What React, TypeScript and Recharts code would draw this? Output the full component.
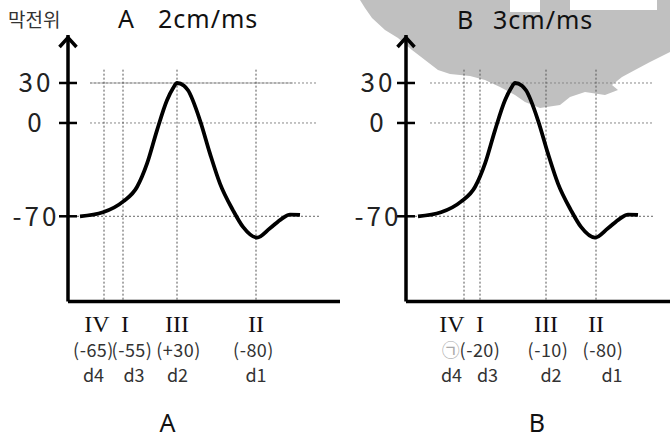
import { LineChart, Line, XAxis, YAxis, ReferenceLine } from 'recharts';

// action potential (panel B shows the same curve)
const timeSteps = [12, 35, 55, 69, 79, 89, 99, 105, 109, 116, 120, 132, 142, 152, 165, 175, 189, 202, 214, 222, 232];
const membranePotential = [-70, -67, -59, -48, -30.5, -5.5, 17, 26, 30, 28, 24.5, 2, -23, -45.5, -65.5, -78, -86, -79, -71.7, -68.7, -69];

const yTicks = [30, 0, -70];

// recording points d4..d1 on each axon
const dLinesA = [36, 55, 109, 188];
const dLinesB = [58, 74, 140, 190];

const romanLabels = ['IV', 'I', 'III', 'II'];
const dLabels = ['d4', 'd3', 'd2', 'd1'];
const valueLabelsA = ['(-65)', '(-55)', '(+30)', '(-80)'];
const valueLabelsB = ['㉠', '(-20)', '(-10)', '(-80)'];

const curve = timeSteps.map((t, i) => ({ t, mv: membranePotential[i] }));

const FONT = '"Noto Sans CJK KR", "Noto Sans", sans-serif';
const LATIN = '"Noto Sans", sans-serif';
const Y_DOMAIN: [number, number] = [-134, 66];

interface PanelConfig {
  left: number;
  width: number;
  xMax: number;
  dLines: number[];
  valueLabels: string[];
  romanDx: number[];
  valueDx: number[];
  dDx: number[];
  tickLabelDx: number;
  gridFrom: number;
  gridTo: number;
  solidTo?: number;
}

const panelA: PanelConfig = {
  left: 0,
  width: 340,
  xMax: 272,
  dLines: dLinesA,
  valueLabels: valueLabelsA,
  romanDx: [-7, 2, 0, 0],
  valueDx: [-10.5, 9, 1.5, -2.5],
  dDx: [-10.5, 11, 0.5, 0],
  tickLabelDx: 32,
  gridFrom: 22,
  gridTo: 249,
  solidTo: 225
};

const panelB: PanelConfig = {
  left: 338,
  width: 332,
  xMax: 264,
  dLines: dLinesB,
  valueLabels: valueLabelsB,
  romanDx: [-12, 0, 0, 0],
  valueDx: [-13, 0, 2, 7],
  dDx: [-12.5, 7.5, 5, 16],
  tickLabelDx: 28,
  gridFrom: 24,
  gridTo: 247
};

function Panel({ cfg }: { cfg: PanelConfig }) {
  const YTick = ({ x, y, payload }: any) => (
    <g>
      <line x1={x - 9} x2={x + 9} y1={y} y2={y} stroke="#000" strokeWidth={2.5} />
      <text
        x={x - cfg.tickLabelDx}
        y={y}
        dy="0.36em"
        textAnchor="middle"
        fontSize={26}
        fontFamily={FONT}
        letterSpacing={3}
        fill="#222"
      >
        {payload.value}
      </text>
    </g>
  );

  const XTick = ({ x, y, index }: any) => (
    <g>
      <text x={x + cfg.romanDx[index]} y={y + 30} textAnchor="middle" fontSize={24} fontFamily='"Liberation Serif", serif' fill="#111">
        {romanLabels[index]}
      </text>
      <text
        x={x + cfg.valueDx[index]}
        y={y + 55}
        textAnchor="middle"
        fontSize={18}
        fontFamily={FONT}
        letterSpacing={0.5}
        fill={cfg.valueLabels[index] === '㉠' ? '#aaa' : '#333'}
      >
        {cfg.valueLabels[index]}
      </text>
      <text x={x + cfg.dDx[index]} y={y + 80} textAnchor="middle" fontSize={18} fontFamily={FONT} fill="#333">
        {dLabels[index]}
      </text>
    </g>
  );

  return (
    <div style={{ position: 'absolute', left: cfg.left, top: 0 }}>
      <LineChart width={cfg.width} height={439} data={curve} margin={{ top: 35, right: 0, bottom: 107.4, left: 8 }}>
        <XAxis
          dataKey="t"
          type="number"
          domain={[0, cfg.xMax]}
          ticks={cfg.dLines}
          tick={<XTick />}
          tickLine={false}
          tickSize={0}
          tickMargin={0}
          height={30}
          axisLine={{ stroke: '#000', strokeWidth: 3.5 }}
          interval={0}
        />
        <YAxis
          type="number"
          domain={Y_DOMAIN}
          ticks={yTicks}
          tick={<YTick />}
          tickLine={false}
          tickSize={0}
          tickMargin={0}
          width={60}
          allowDataOverflow
          axisLine={{ stroke: '#000', strokeWidth: 3.5, markerStart: 'url(#axisArrow)' }}
        />
        {cfg.solidTo && (
          <ReferenceLine segment={[{ x: cfg.gridFrom, y: 30 }, { x: cfg.solidTo, y: 30 }]} stroke="#c4c4c4" strokeWidth={1.5} />
        )}
        <ReferenceLine segment={[{ x: cfg.gridFrom, y: 30 }, { x: cfg.gridTo, y: 30 }]} stroke="#888" strokeDasharray="2 2" />
        <ReferenceLine segment={[{ x: cfg.gridFrom, y: 0 }, { x: cfg.gridTo, y: 0 }]} stroke="#888" strokeDasharray="2 2" />
        <ReferenceLine segment={[{ x: 1, y: -70 }, { x: cfg.gridTo + 2, y: -70 }]} stroke="#666" strokeDasharray="2 2" />
        {cfg.dLines.map((d) => (
          <ReferenceLine key={d} segment={[{ x: d, y: 40 }, { x: d, y: -134 }]} stroke="#555" strokeDasharray="2 2" />
        ))}
        <Line
          type="monotone"
          dataKey="mv"
          stroke="#000"
          strokeWidth={3.8}
          dot={false}
          isAnimationActive={false}
        />
      </LineChart>
    </div>
  );
}

// grey smudge in the scanned original, top right
const smudge =
  '360,0 510,0 510,12 540,12 540,0 570,0 570,10 657,10 657,0 670,0 670,52 650,62 635,70 622,77 612,85 618,90 605,95 585,92 570,97 560,105 540,108 525,102 515,95 500,87 485,80 470,76 450,74 438,70 425,60 412,50 398,38 385,30 372,18 365,8';

export default function App() {
  return (
    <div style={{ position: 'absolute', left: 0, top: 0, width: 670, height: 439, background: '#fff', overflow: 'hidden' }}>
      <svg width={670} height={439} style={{ position: 'absolute', left: 0, top: 0 }}>
        <defs>
          <marker
            id="axisArrow"
            markerUnits="userSpaceOnUse"
            markerWidth={30}
            markerHeight={30}
            viewBox="-15 -5 30 30"
            refX={0}
            refY={0}
            orient="0"
            overflow="visible"
          >
            <path d="M-8.5,12 L0,2.5 L8.5,12" fill="none" stroke="#000" strokeWidth={3.5} />
          </marker>
        </defs>
        <polygon points={smudge} fill="#c0c0c0" />
        <text x={8} y={27} fontSize={19} fontFamily={FONT} fill="#333">막전위</text>
        <text x={118} y={28} fontSize={25} fontFamily={LATIN} fill="#111">A</text>
        <text x={158} y={28} fontSize={25} fontFamily={LATIN} fill="#111" letterSpacing={1}>2cm/ms</text>
        <text x={457} y={29} fontSize={25} fontFamily={LATIN} fill="#111">B</text>
        <text x={493} y={29} fontSize={25} fontFamily={LATIN} fill="#111" letterSpacing={1}>3cm/ms</text>
        <text x={167.5} y={431.5} textAnchor="middle" fontSize={25} fontFamily={LATIN} fill="#111">A</text>
        <text x={537} y={431.5} textAnchor="middle" fontSize={25} fontFamily={LATIN} fill="#111">B</text>
      </svg>
      <Panel cfg={panelA} />
      <Panel cfg={panelB} />
    </div>
  );
}
